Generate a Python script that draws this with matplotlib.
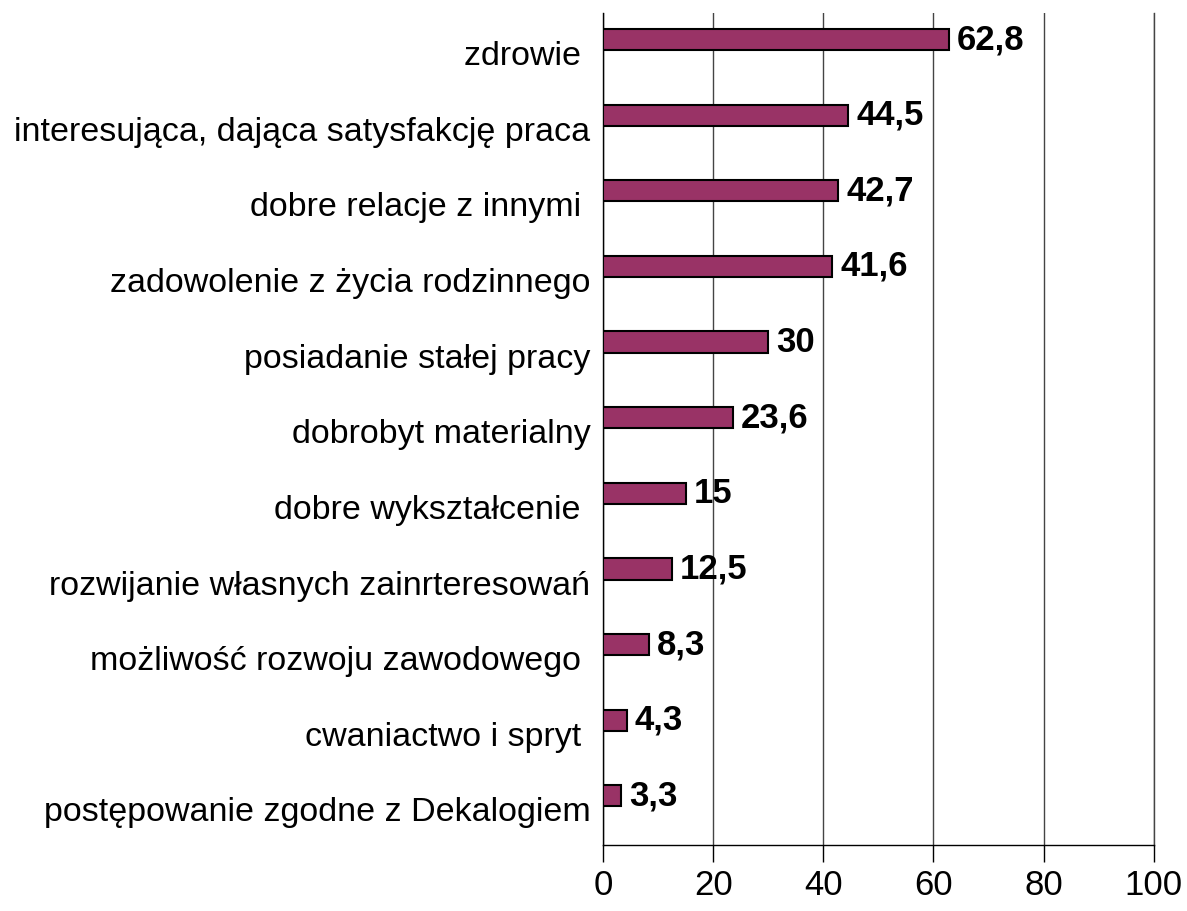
import matplotlib.pyplot as plt

plt.rcParams['font.family'] = ['Liberation Sans', 'DejaVu Sans']

categories = ['zdrowie ', 'interesująca, dająca satysfakcję praca',
              'dobre relacje z innymi ', 'zadowolenie z życia rodzinnego',
              'posiadanie stałej pracy', 'dobrobyt materialny',
              'dobre wykształcenie ', 'rozwijanie własnych zainrteresowań',
              'możliwość rozwoju zawodowego ', 'cwaniactwo i spryt ',
              'postępowanie zgodne z Dekalogiem']
values = [62.8, 44.5, 42.7, 41.6, 30, 23.6, 15, 12.5, 8.3, 4.3, 3.3]
xticks = [0, 20, 40, 60, 80, 100]


def fmt(v):
    return ('%g' % v).replace('.', ',')


fig = plt.figure(figsize=(11.87, 9.11), dpi=100)
ax = fig.add_axes([0.508, 0.0724, 0.464, 0.9133])

ypos = list(range(len(categories)))[::-1]
ax.barh(ypos, values, height=0.28, color='#993366', edgecolor='black', linewidth=1.5, zorder=3)
for y, v in zip(ypos, values):
    ax.text(v + 1.5, y, fmt(v), va='center', ha='left', fontsize=25, fontweight='bold', zorder=4)

ax.set_xlim(0, 100)
ax.set_ylim(-0.65, len(categories) - 0.65)
ax.set_xticks(xticks)
ax.set_xticklabels([str(t) for t in xticks], fontsize=25)
ax.set_yticks([y - 0.18 for y in ypos])
ax.set_yticklabels(categories, fontsize=24.5)
ax.tick_params(axis='y', length=0, pad=9)
ax.tick_params(axis='x', length=12, width=1, pad=5, direction='out')
ax.grid(axis='x', color='#444444', linewidth=1, zorder=0)
ax.axvline(100, color='#444444', linewidth=1, zorder=0, clip_on=False)
for s in ['top', 'right']:
    ax.spines[s].set_visible(False)
ax.spines['left'].set_linewidth(1)
ax.spines['bottom'].set_linewidth(1)

fig.savefig('out.png', dpi=100)
